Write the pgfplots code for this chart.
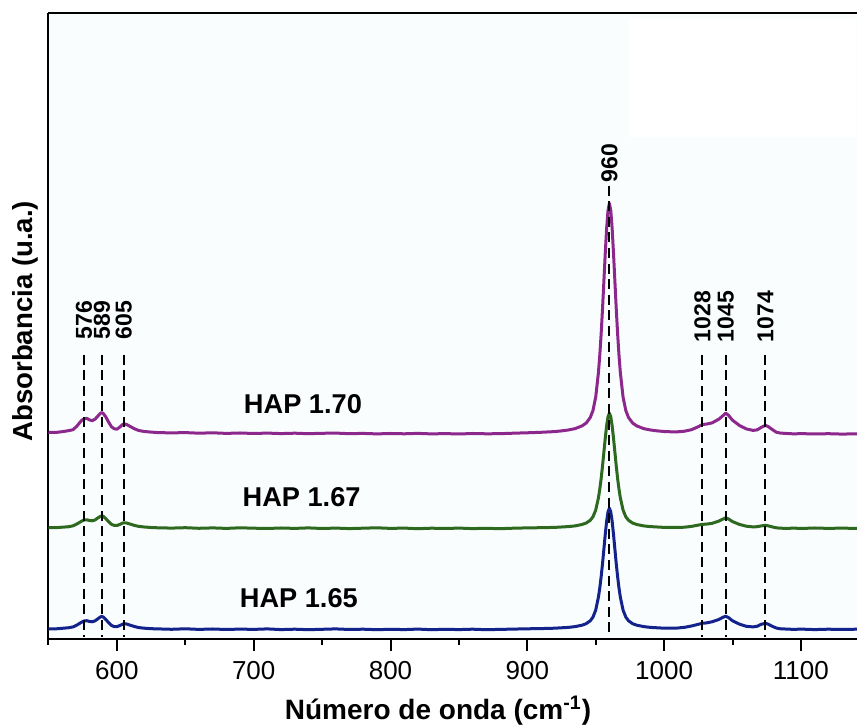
\documentclass[border=0pt]{standalone}
\usepackage{fontspec}
\setmainfont{Liberation Sans}
\usepackage{pgfplots}
\pgfplotsset{compat=1.18}

\definecolor{hapP}{RGB}{140,40,140}
\definecolor{hapG}{RGB}{45,105,30}
\definecolor{hapB}{RGB}{20,35,140}
\definecolor{plotbg}{RGB}{249,253,254}

\begin{document}
\begin{tikzpicture}
\begin{axis}[
  name=ax,
  scale only axis,
  width=404.25pt, height=313pt,
  xmin=550, xmax=1141, ymin=0, ymax=626,
  axis x line=box, axis y line=left,
  axis line style={-, line width=1pt, black},
  axis background/.style={fill=plotbg},
  xtick={600,700,800,900,1000,1100},
  minor xtick={550,650,750,850,950,1050},
  xtick pos=lower,
  ytick=\empty,
  tick align=outside,
  major tick length=6pt, minor tick length=3pt,
  every tick/.style={black, line width=1pt},
  /pgf/number format/assume math mode=true,
  /pgf/number format/set thousands separator={},
  xticklabel style={font=\fontsize{13}{15}\selectfont, anchor=base, yshift=-14.5pt},
  xlabel={\textbf{Número de onda (cm\textsuperscript{-1})}},
  xlabel style={font=\fontsize{14}{16}\selectfont, at={(axis description cs:0.4818,-0.1294)}, anchor=base},
  ylabel={\textbf{Absorbancia (u.a.)}},
  ylabel style={font=\fontsize{13.8}{16}\selectfont, at={(axis description cs:-0.029,0.507)}, anchor=center, rotate=0},
  clip=false,
]
% faint lighter patch in the upper right of the frame
\fill[white] (axis cs:974,502) rectangle (axis cs:1140,621);

% HAP 1.70
\addplot[hapP, line width=1.5pt, line join=round] table {
550 206.3
555 206.2
560 207.0
565 208.1
568 209.0
571 213.0
574 218.0
576 220.0
578 220.3
580 218.8
582 218.0
584 219.5
586 222.5
588 225.5
589 226.0
590 225.3
592 221.5
594 216.5
596 212.0
598 210.0
600 209.5
602 211.5
604 214.0
605 214.7
607 214.3
610 212.0
613 209.8
616 208.2
620 207.2
625 206.6
630 206.1
640 205.8
650 206.1
660 205.5
670 205.9
680 205.3
690 205.7
700 205.2
710 205.6
720 205.1
730 205.5
740 205.0
750 205.4
760 205.6
770 205.0
780 205.3
790 204.8
800 205.2
810 204.9
820 205.3
830 204.8
840 205.1
850 204.7
860 205.2
870 204.9
880 205.0
890 205.5
900 205.9
910 206.4
920 207.1
925 207.8
930 208.7
935 210.1
940 212.8
943 215.6
946 221.1
948 228.2
950 241.6
952 266.2
953 283.9
954 305.3
955 330.4
956 358.0
957 385.8
958 410.6
959 428.3
960 435.5
961 428.3
962 410.6
963 385.8
964 358.0
965 330.4
966 305.3
967 283.9
968 266.2
970 241.6
972 228.2
974 221.1
977 215.6
980 212.8
985 210.1
990 208.7
995 207.8
1000 207.2
1005 206.9
1010 206.9
1015 207.5
1020 209.0
1025 212.0
1028 214.2
1031 214.6
1035 215.8
1040 219.5
1043 223.0
1045 225.5
1047 223.5
1050 218.5
1055 213.3
1060 209.8
1065 208.3
1068 208.8
1071 211.3
1074 213.3
1076 212.2
1079 209.2
1082 206.5
1085 205.6
1090 205.2
1095 204.8
1100 205.1
1110 204.7
1120 205.0
1130 204.6
1141 204.9
};

% HAP 1.67
\addplot[hapG, line width=1.5pt, line join=round] table {
550 111.2
555 111.0
560 111.5
565 112.0
568 112.9
571 114.9
574 117.4
576 118.7
578 118.9
580 118.2
582 117.9
584 118.7
586 120.7
588 122.4
589 122.9
590 122.4
592 119.9
594 116.9
596 114.4
598 113.3
600 113.2
602 114.2
604 115.5
605 115.9
607 115.7
610 114.5
613 113.2
616 112.3
620 111.7
625 111.2
630 110.9
640 110.6
650 111.0
660 110.4
670 110.8
680 110.3
690 110.9
700 110.5
710 110.2
720 110.7
730 110.3
740 110.8
750 110.2
760 110.6
770 110.1
780 110.5
790 110.9
800 110.3
810 110.6
820 110.0
830 110.5
840 110.2
850 110.6
860 110.1
870 110.4
880 110.0
890 110.5
900 110.8
910 111.0
920 111.3
925 111.7
930 112.1
935 112.8
940 114.2
943 115.6
946 118.4
948 121.9
950 128.6
952 140.9
953 149.7
954 160.4
955 173.0
956 186.8
957 200.7
958 213.1
959 222.0
960 225.5
961 222.0
962 213.1
963 200.7
964 186.8
965 173.0
966 160.4
967 149.7
968 140.9
970 128.6
972 121.9
974 118.4
977 115.6
980 114.2
985 112.8
990 112.1
995 111.7
1000 111.3
1005 111.2
1010 111.2
1015 111.5
1020 112.3
1025 113.6
1028 114.3
1031 114.6
1035 115.3
1040 117.6
1043 119.6
1045 120.9
1047 119.8
1050 117.1
1055 114.3
1060 112.5
1065 111.8
1068 112.0
1071 112.8
1074 113.3
1076 112.9
1079 111.8
1082 110.9
1085 110.5
1090 110.3
1095 110.6
1100 110.2
1110 110.7
1120 110.3
1130 110.6
1141 110.2
};

% HAP 1.65
\addplot[hapB, line width=1.5pt, line join=round] table {
550 9.9
555 9.8
560 10.4
565 11.0
568 11.8
571 13.8
574 16.4
576 17.7
578 18.0
580 17.2
582 16.9
584 17.8
586 19.8
588 21.8
589 22.3
590 21.7
592 19.1
594 15.9
596 13.3
598 12.1
600 12.0
602 13.1
604 14.4
605 14.9
607 14.7
610 13.4
613 12.1
616 11.1
620 10.5
625 10.0
630 9.8
640 9.4
650 9.9
660 9.3
670 9.7
680 9.2
690 9.6
700 9.3
710 9.8
720 9.1
730 9.5
740 9.0
750 9.4
760 9.8
770 9.2
780 9.5
790 9.0
800 9.4
810 9.1
820 9.6
830 9.0
840 9.4
850 9.1
860 9.5
870 9.0
880 9.3
890 9.6
900 9.9
910 10.1
920 10.5
925 10.9
930 11.3
935 12.1
940 13.5
943 15.0
946 17.9
948 21.6
950 28.6
952 41.6
953 50.9
954 62.2
955 75.3
956 89.9
957 104.5
958 117.6
959 126.9
960 130.5
961 126.9
962 117.6
963 104.5
964 89.9
965 75.3
966 62.2
967 50.9
968 41.6
970 28.6
972 21.6
974 17.9
977 15.0
980 13.5
985 12.1
990 11.3
995 10.9
1000 10.5
1005 10.5
1010 10.7
1015 11.4
1020 12.7
1025 14.4
1028 15.4
1031 15.8
1035 16.9
1040 19.2
1043 21.4
1045 22.4
1047 21.2
1050 17.9
1055 14.6
1060 12.4
1065 11.8
1068 12.4
1071 14.4
1074 15.4
1076 14.6
1079 12.4
1082 10.7
1085 9.9
1090 9.6
1095 9.3
1100 9.6
1110 9.1
1120 9.5
1130 9.2
1141 9.5
};

% band positions
\pgfplotsinvokeforeach{576,589,605,1028,1045,1074}{
  \addplot[black, line width=1pt, dash pattern=on 5pt off 2.8pt] coordinates {(#1,284) (#1,2)};
}
\addplot[black, line width=1pt, dash pattern=on 5pt off 2.8pt] coordinates {(960,453) (960,2)};

\begin{scope}[every node/.style={font=\fontsize{11.5}{13}\selectfont\bfseries, rotate=90, anchor=west, inner sep=0pt}]
\node at (axis cs:576,299) {576};
\node at (axis cs:589,299) {589};
\node at (axis cs:605,299) {605};
\node at (axis cs:960,456) {960};
\node at (axis cs:1028,296) {1028};
\node at (axis cs:1045,296) {1045};
\node at (axis cs:1074,296) {1074};
\end{scope}

\begin{scope}[every node/.style={font=\fontsize{13.6}{15}\selectfont\bfseries, anchor=center}]
\node at (axis cs:736,235) {HAP 1.70};
\node at (axis cs:735,142) {HAP 1.67};
\node at (axis cs:733,41) {HAP 1.65};
\end{scope}
\end{axis}
\pgfresetboundingbox
\path[use as bounding box] ([shift={(-24.25pt,-44pt)}]ax.south west) rectangle ([shift={(0pt,6.35pt)}]ax.north east);
\end{tikzpicture}
\end{document}
